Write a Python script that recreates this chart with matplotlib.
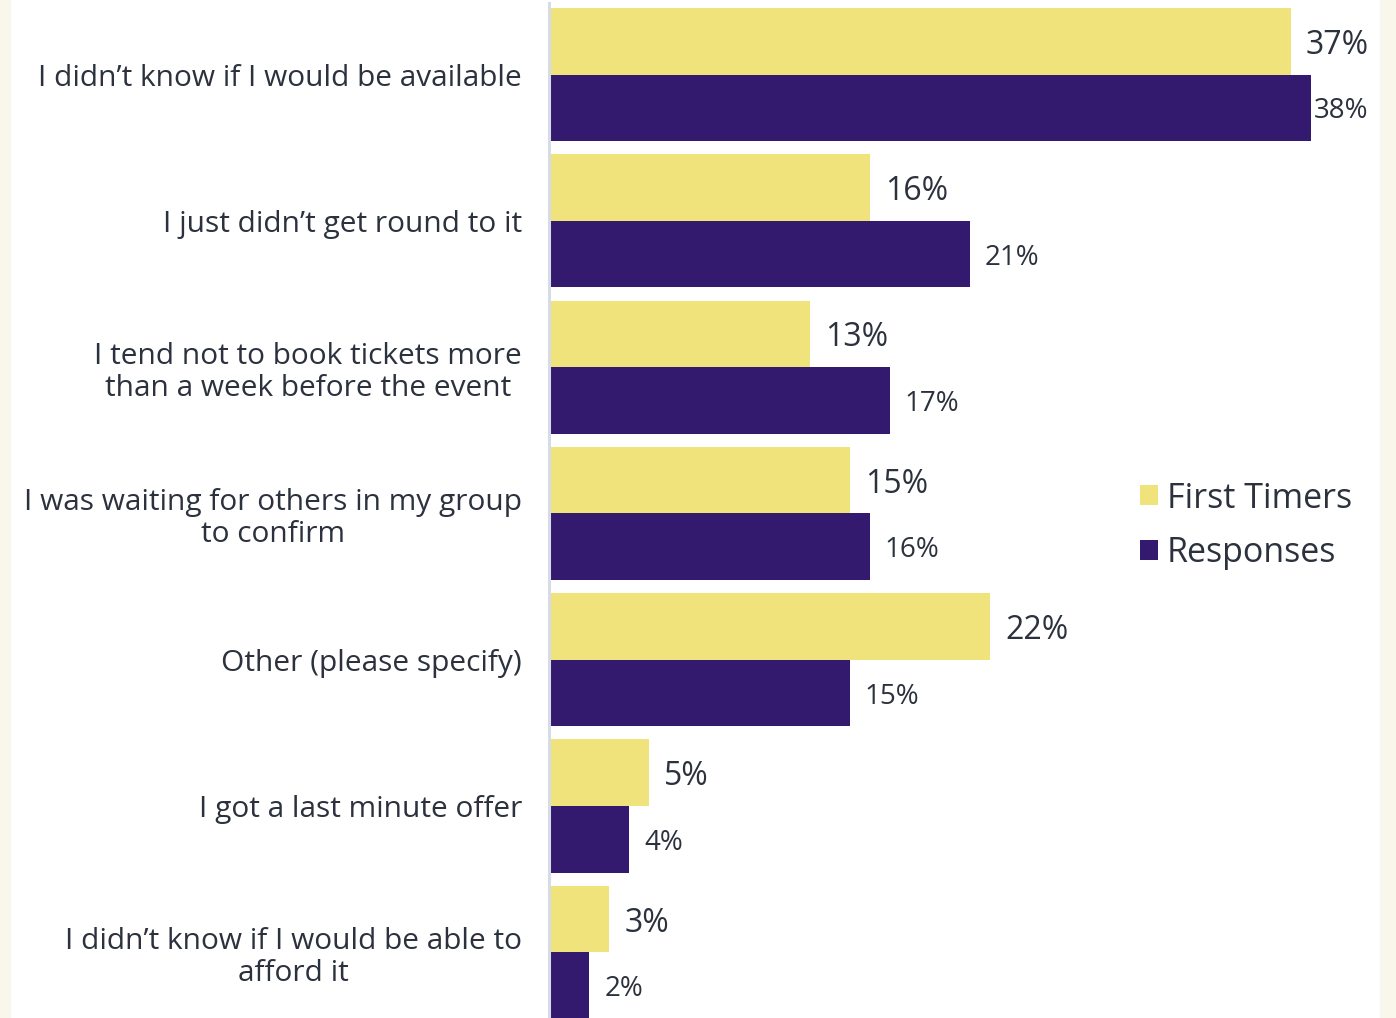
import matplotlib.pyplot as plt
import numpy as np

# survey reasons and shares (%)
categories = [
    "I didn\u2019t know if I would be available",
    "I just didn\u2019t get round to it",
    "I tend not to book tickets more\nthan a week before the event",
    "I was waiting for others in my group\nto confirm",
    "Other (please specify)",
    "I got a last minute offer",
    "I didn\u2019t know if I would be able to\nafford it",
]
first_timers = [37, 16, 13, 15, 22, 5, 3]
responses = [38, 21, 17, 16, 15, 4, 2]

YELLOW = "#f1e37c"
PURPLE = "#341a6f"
TEXT = "#2b313d"
CREAM = "#f9f7ec"

plt.rcParams["font.family"] = ["Open Sans", "DejaVu Sans"]

W, H = 1396, 1018
fig = plt.figure(figsize=(W / 100, H / 100), dpi=100)
fig.patch.set_facecolor("white")

# cream strips at the left and right edges
fig.add_artist(plt.Rectangle((0, 0), 10 / W, 1, transform=fig.transFigure,
                             color=CREAM, zorder=0))
fig.add_artist(plt.Rectangle((1380 / W, 0), 16 / W, 1, transform=fig.transFigure,
                             color=CREAM, zorder=0))

# axes from the spine (x=549) to the right strip
ax = fig.add_axes([549 / W, 0, (1380 - 549) / W, (H - 3) / H])
ax.set_facecolor("none")

y = np.arange(len(categories))
h = 0.455
xmax = 41.45
ax.barh(y - h / 2, first_timers, height=h, color=YELLOW, label="First Timers")
ax.barh(y + h / 2, responses, height=h, color=PURPLE, label="Responses")

ax.set_xlim(0, xmax)
ax.set_ylim(6.449, -0.489)

for yi, v in zip(y, first_timers):
    ax.text(v + 0.75, yi - h / 2, f"{v}%", va="center_baseline", ha="left",
            fontsize=23, color=TEXT)
for yi, v in zip(y, responses):
    ax.text(min(v + 0.75, xmax - 3.3), yi + h / 2, f"{v}%",
            va="center_baseline", ha="left", fontsize=20, color=TEXT)

ax.set_yticks(y)
ax.set_yticklabels(categories, fontsize=21.5, color=TEXT, ha="right",
                   multialignment="center", linespacing=1.15)
ax.tick_params(axis="y", length=0, pad=19.5)
ax.set_xticks([])
for s in ["top", "right", "bottom"]:
    ax.spines[s].set_visible(False)
ax.spines["left"].set_color("#d5dce6")
ax.spines["left"].set_linewidth(2.2)

leg = ax.legend(loc="center left", bbox_to_anchor=((1140 - 549) / (1380 - 549), 0.485),
                frameon=False, fontsize=24.5, handlelength=0.53, handleheight=0.53,
                handletextpad=0.26, labelspacing=0.6, borderpad=0,
                borderaxespad=0, labelcolor=TEXT)

fig.savefig("out.png", dpi=100, facecolor=fig.get_facecolor())
